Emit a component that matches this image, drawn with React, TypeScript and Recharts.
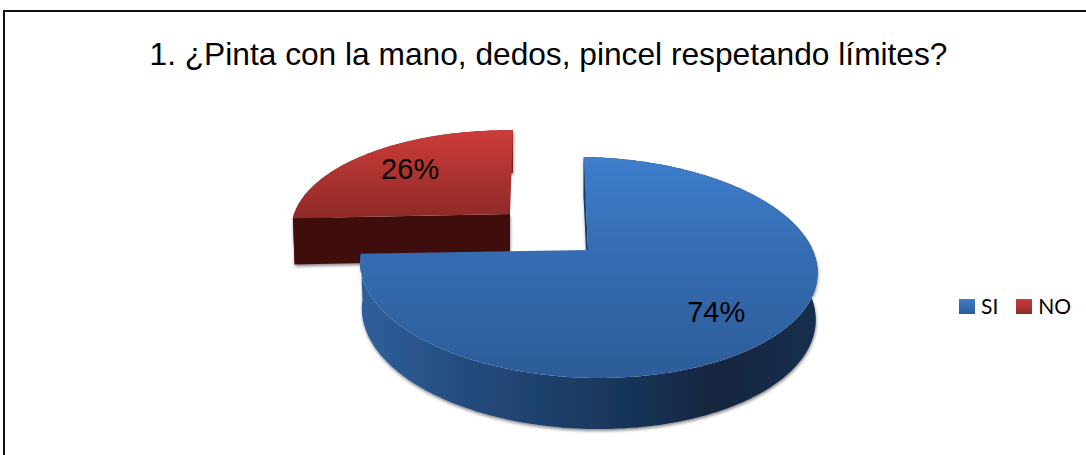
import { Legend, Pie, PieChart } from "recharts";

const categories = ["SI", "NO"];
const percents = [74, 26];
const title = "1. ¿Pinta con la mano, dedos, pincel respetando límites?";

const W = 1086;
const H = 455;
const RADIUS = 227;
const SQUASH = 0.4745;
const PERSPECTIVE = 0.158;

// how each slice sits in the fake 3D view
const views: Record<string, any> = {
  SI: { dx: 0, dy: 0, sa: 0.995, sb: 1, shear: 5, tilt: 3, depth: 46, labelR: 0.72, lx: -3, ly: 3, face: "url(#siFace)", wall: "url(#siWall)", cut: "#1b3c63" },
  NO: { dx: -78, dy: -36, sa: 0.948, sb: 0.9, shear: -3.5, tilt: 2, depth: 46, labelR: 0.68, lx: -2, ly: -2, face: "url(#noFace)", wall: "#7a201e", cut: "#401010" },
};

// NO goes first so the SI slice paints over its wall
const slices = categories
  .map((name, i) => ({ name, value: percents[i] }))
  .reverse();
const startAngle = 90 + (percents[1] / (percents[0] + percents[1])) * 360;

function project(cx: number, cy: number, r: number, deg: number, v: any, bottom = false) {
  const t = ((90 - deg) * Math.PI) / 180;
  const x = r * Math.sin(t);
  const y = -r * Math.cos(t);
  const w = 1 - PERSPECTIVE * y;
  const a = RADIUS * v.sa * (bottom ? 0.992 : 1);
  const b = RADIUS * SQUASH * v.sb * (bottom ? 1.04 : 1);
  return [
    cx + v.dx + (a * x) / w + (v.shear * y) / w,
    cy + v.dy + (b * y) / w + v.tilt * x + (bottom ? v.depth : 0),
  ];
}

function arc(cx: number, cy: number, from: number, to: number, v: any, bottom = false) {
  const steps = Math.ceil(Math.abs(from - to));
  const pts = [];
  for (let i = 0; i <= steps; i++) {
    pts.push(project(cx, cy, 1, from + ((to - from) * i) / steps, v, bottom));
  }
  return pts;
}

const toPath = (pts: number[][]) =>
  "M" + pts.map((p) => p[0].toFixed(1) + " " + p[1].toFixed(1)).join("L") + "Z";

function Slice3D(props: any) {
  const { cx, cy, startAngle: from, endAngle: to, name } = props;
  const v = views[name];
  const top = arc(cx, cy, from, to, v);
  const low = arc(cx, cy, from, to, v, true);
  const centre = project(cx, cy, 0, 0, v);
  const lowCentre = project(cx, cy, 0, 0, v, true);
  return (
    <g>
      <g filter="url(#pieShadow)">
        <path d={toPath([...top, ...[...low].reverse()])} fill={v.wall} />
        <path d={toPath([centre, top[0], low[0], lowCentre])} fill={v.cut} />
      </g>
      <path d={toPath([centre, ...top])} fill={v.face} />
    </g>
  );
}

function sliceLabel(props: any) {
  const { cx, cy, midAngle, name, value } = props;
  const v = views[name];
  const [x, y] = project(cx, cy, v.labelR, midAngle, v);
  return (
    <text x={x + v.lx} y={y + v.ly} textAnchor="middle" dominantBaseline="central" fontFamily="Liberation Sans" fontSize={29} fill="#000">
      {value}%
    </text>
  );
}

function PieLegend() {
  const colors = ["linear-gradient(#3d7cc9,#2c5c99)", "linear-gradient(#cb3c38,#8f2a28)"];
  return (
    <div style={{ display: "flex", fontFamily: "Lato", fontSize: 21, color: "#000", lineHeight: "24px" }}>
      {categories.map((c, i) => (
        <div key={c} style={{ display: "flex", alignItems: "center", marginRight: i === 0 ? 18 : 0 }}>
          <span style={{ width: 16, height: 15, background: colors[i], marginRight: 6 }} />
          {c}
        </div>
      ))}
    </div>
  );
}

export default function App() {
  return (
    <div style={{ position: "absolute", left: 0, top: 0, width: W, height: H, background: "#fff", overflow: "hidden" }}>
      <div style={{ position: "absolute", left: 3, top: 10, width: W, height: H, borderLeft: "2px solid #111", borderTop: "2px solid #111" }} />
      <div style={{ position: "absolute", left: 0, width: 1097, top: 37, textAlign: "center", fontFamily: "Liberation Sans", fontSize: 31.7, lineHeight: "34px", color: "#000", whiteSpace: "nowrap" }}>
        {title}
      </div>
      <PieChart width={W} height={H} margin={{ top: 0, right: 0, bottom: 0, left: 0 }} style={{ position: "absolute", left: 0, top: 0 }}>
        <defs>
          <linearGradient id="siFace" gradientUnits="userSpaceOnUse" x1="0" y1="157" x2="0" y2="378">
            <stop offset="0%" stopColor="#3e7ecb" />
            <stop offset="45%" stopColor="#356cb1" />
            <stop offset="100%" stopColor="#2c5c99" />
          </linearGradient>
          <linearGradient id="noFace" gradientUnits="userSpaceOnUse" x1="0" y1="130" x2="0" y2="218">
            <stop offset="0%" stopColor="#cc3c39" />
            <stop offset="100%" stopColor="#8e2a28" />
          </linearGradient>
          <linearGradient id="siWall" gradientUnits="userSpaceOnUse" x1="361" y1="0" x2="818" y2="0">
            <stop offset="0%" stopColor="#2f5f9b" />
            <stop offset="25%" stopColor="#234a7b" />
            <stop offset="50%" stopColor="#1b3a62" />
            <stop offset="78%" stopColor="#13263f" />
            <stop offset="100%" stopColor="#182f4e" />
          </linearGradient>
          <filter id="pieShadow" x="-5%" y="-5%" width="110%" height="115%">
            <feDropShadow dx="0.5" dy="2" stdDeviation="1.6" floodColor="#000" floodOpacity="0.45" />
          </filter>
        </defs>
        <Pie
          data={slices}
          dataKey="value"
          nameKey="name"
          cx={588}
          cy={250}
          outerRadius={RADIUS}
          startAngle={startAngle}
          endAngle={startAngle - 360}
          stroke="none"
          shape={Slice3D}
          label={sliceLabel}
          labelLine={false}
          isAnimationActive={false}
        />
        <Legend content={<PieLegend />} wrapperStyle={{ position: "absolute", left: 959, top: 294, width: "auto", bottom: "auto" }} />
      </PieChart>
    </div>
  );
}
